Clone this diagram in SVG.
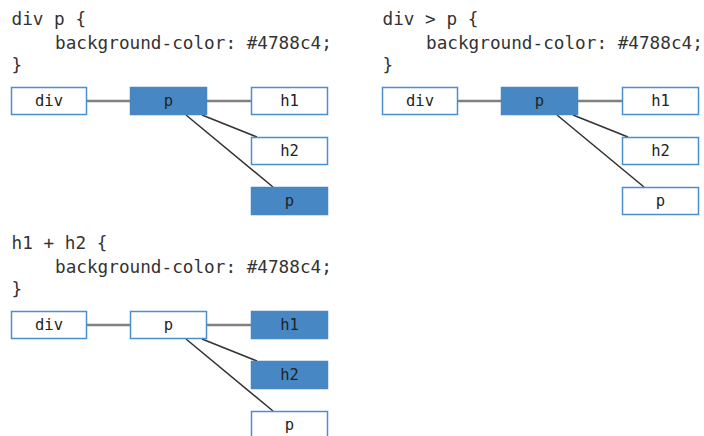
<svg xmlns="http://www.w3.org/2000/svg" width="704" height="436" viewBox="0 0 704 436">
<style>
.code{font-family:"DejaVu Sans Mono","Liberation Mono",monospace;font-size:17.7px;fill:#333}
.lbl{font-family:"DejaVu Sans Mono","Liberation Mono",monospace;font-size:15.5px;fill:#222;text-anchor:middle}
.box{fill:#fff;stroke:#4a8fcf;stroke-width:1.5}
.on{fill:#4788c4;stroke:#4788c4;stroke-width:1.5}
.h{stroke:#808080;stroke-width:2.6;fill:none}
.d{stroke:#333;stroke-width:1.6;fill:none}
</style>
<rect width="704" height="436" fill="#fff"/>
<g id="code1">
<text class="code" x="11.5" y="25">div p {</text>
<text class="code" x="55" y="48.5">background-color: #4788c4;</text>
<text class="code" x="11.5" y="71">}</text>
</g>
<g id="code2">
<text class="code" x="382.5" y="25">div &gt; p {</text>
<text class="code" x="426" y="48.5">background-color: #4788c4;</text>
<text class="code" x="382.5" y="71">}</text>
</g>
<g id="code3">
<text class="code" x="11.5" y="249">h1 + h2 {</text>
<text class="code" x="55" y="272.5">background-color: #4788c4;</text>
<text class="code" x="11.5" y="295">}</text>
</g>
<g id="connectors">
<path class="h" d="M87 101H130M207 101H251"/>
<path class="d" d="M202 115L257 137M186 115L273 187"/>
<path class="h" d="M458 101H501M578 101H622"/>
<path class="d" d="M573 115L628 137M557 115L644 187"/>
<path class="h" d="M87 325H130M207 325H251"/>
<path class="d" d="M202 339L257 361M186 339L273 411"/>
</g>
<g id="n1-div"><rect class="box" x="11.5" y="87.5" width="75" height="27"/><text class="lbl" x="49" y="106">div</text></g>
<g id="n1-p"><rect class="on" x="130.5" y="87.5" width="76" height="27"/><text class="lbl" x="168.5" y="106">p</text></g>
<g id="n1-h1"><rect class="box" x="251.5" y="87.5" width="76" height="27"/><text class="lbl" x="289.5" y="106">h1</text></g>
<g id="n1-h2"><rect class="box" x="251.5" y="137.5" width="76" height="27"/><text class="lbl" x="289.5" y="156">h2</text></g>
<g id="n1-p2"><rect class="on" x="251.5" y="187.5" width="76" height="27"/><text class="lbl" x="289.5" y="206">p</text></g>
<g id="n2-div"><rect class="box" x="382.5" y="87.5" width="75" height="27"/><text class="lbl" x="420" y="106">div</text></g>
<g id="n2-p"><rect class="on" x="501.5" y="87.5" width="76" height="27"/><text class="lbl" x="539.5" y="106">p</text></g>
<g id="n2-h1"><rect class="box" x="622.5" y="87.5" width="76" height="27"/><text class="lbl" x="660.5" y="106">h1</text></g>
<g id="n2-h2"><rect class="box" x="622.5" y="137.5" width="76" height="27"/><text class="lbl" x="660.5" y="156">h2</text></g>
<g id="n2-p2"><rect class="box" x="622.5" y="187.5" width="76" height="27"/><text class="lbl" x="660.5" y="206">p</text></g>
<g id="n3-div"><rect class="box" x="11.5" y="311.5" width="75" height="27"/><text class="lbl" x="49" y="330">div</text></g>
<g id="n3-p"><rect class="box" x="130.5" y="311.5" width="76" height="27"/><text class="lbl" x="168.5" y="330">p</text></g>
<g id="n3-h1"><rect class="on" x="251.5" y="311.5" width="76" height="27"/><text class="lbl" x="289.5" y="330">h1</text></g>
<g id="n3-h2"><rect class="on" x="251.5" y="361.5" width="76" height="27"/><text class="lbl" x="289.5" y="380">h2</text></g>
<g id="n3-p2"><rect class="box" x="251.5" y="411.5" width="76" height="27"/><text class="lbl" x="289.5" y="430">p</text></g>
</svg>
